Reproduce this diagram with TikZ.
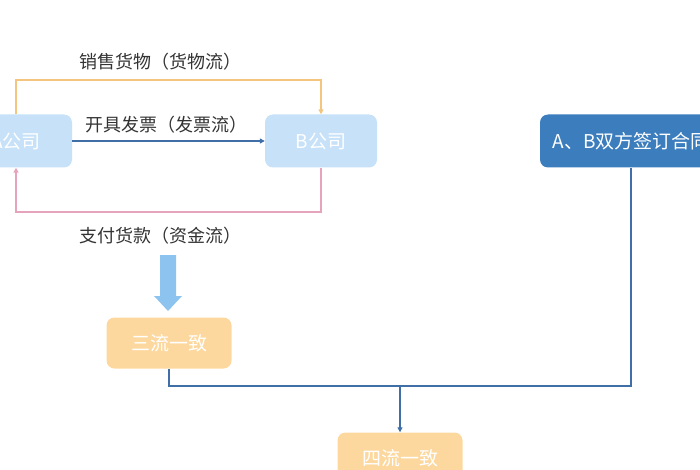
\documentclass[tikz,border=0pt]{standalone}
\usepackage{fontspec}
\setmainfont{Noto Sans CJK SC}
\usetikzlibrary{arrows.meta}
\definecolor{lbbox}{HTML}{C6E1F8}
\definecolor{obox}{HTML}{FDD89E}
\definecolor{dbbox}{HTML}{3B7DBD}
\definecolor{oline}{HTML}{F3C57F}
\definecolor{bline}{HTML}{3F6FA6}
\definecolor{pline}{HTML}{E6A3BC}
\definecolor{bigarr}{HTML}{8DC3EF}
\definecolor{ctext}{HTML}{333333}
\tikzset{
  box/.style={rounded corners=8pt, minimum width=112pt, minimum height=53pt, inner sep=0pt, text=white, font=\fontsize{19}{22}\selectfont},
  lbl/.style={text=ctext, font=\fontsize{18}{21}\selectfont, inner sep=0pt},
  tip/.style={-{Triangle[length=5pt,width=5pt]}},
  conn/.style={line width=1.3pt}
}
\begin{document}
\begin{tikzpicture}[x=1pt,y=-1pt]
\useasboundingbox (0,0) rectangle (700,470);
\clip (0,0) rectangle (700,470);
\node[box, fill=lbbox] (A) at (16,141) {A公司};
\node[box, fill=lbbox] (B) at (321,141) {B公司};
\node[box, fill=dbbox, minimum width=182pt] (C) at (631,141) {A、B双方签订合同};
\node[box, fill=obox, minimum width=125pt, minimum height=51pt] (S) at (169,343) {三流一致};
\node[box, fill=obox, minimum width=125pt, minimum height=51pt] (F) at (400,458) {四流一致};
\node[lbl] (l1) at (160,62) {销售货物（货物流）};
\node[lbl] (l2) at (166,125) {开具发票（发票流）};
\node[lbl] (l3) at (160,236) {支付货款（资金流）};
% goods flow
\draw[conn, oline, tip] (A.north) -- (16,80) -- (321,80) -- (B.north);
% invoice flow
\draw[conn, bline, tip] (A.east) -- (B.west);
% payment flow
\draw[conn, pline, tip] (B.south) -- (321,212) -- (16,212) -- (A.south);
% big arrow
\fill[bigarr] (160,255) -- (176,255) -- (176,296) -- (182,296) -- (168,311) -- (154,296) -- (160,296) -- cycle;
% merge lines
\coordinate (j) at (400,386);
\draw[conn, bline] (S.south) -- (169,386) -- (631,386) -- (C.south);
\draw[conn, bline, tip] (j) -- (F.north);
\end{tikzpicture}
\end{document}
